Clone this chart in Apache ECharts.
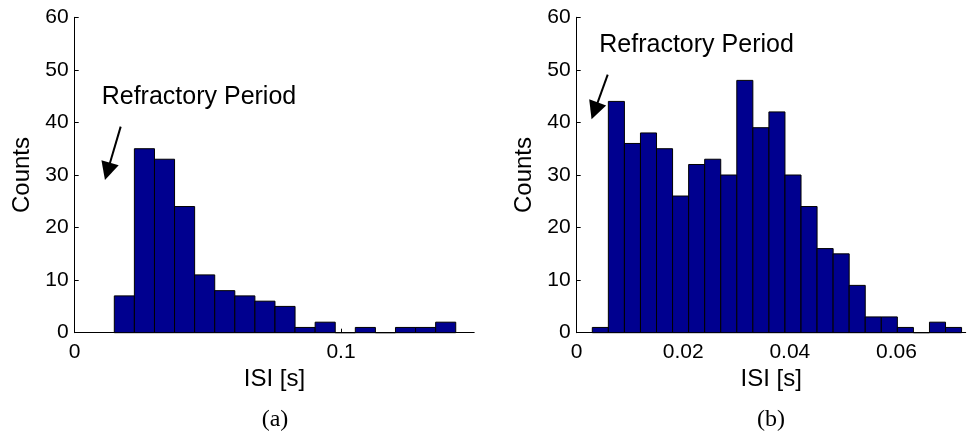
<!DOCTYPE html>
<html>
<head>
<meta charset="utf-8">
<script src="https://cdn.jsdelivr.net/npm/echarts@6/dist/echarts.min.js"></script>
<style>
  html, body { margin: 0; padding: 0; background: #fff; }
  #chart { width: 968px; height: 436px; }
</style>
</head>
<body>
<div id="chart"></div>
<script>
// Inter-spike interval histograms: (a) left, (b) right
const countsA = [7, 35, 33, 24, 11, 8, 7, 6, 5, 1, 2, 0, 1, 0, 1, 1, 2];
const binStartA = 0.01487;
const binWidthA = 0.007541;

const countsB = [1, 44, 36, 38, 35, 26, 32, 33, 30, 48, 39, 42, 30, 24, 16, 15, 9, 3, 3, 1, 0, 2, 1];
const binStartB = 0.002927;
const binWidthB = 0.003013;

const yTicks = [0, 10, 20, 30, 40, 50, 60];
const xTicksA = [0, 0.1];
const xTicksB = [0, 0.02, 0.04, 0.06];

const annotationText = 'Refractory Period';
// annotation anchors in data coordinates [x, y]
const arrowA = [[0.01727, 39.2], [0.01232, 30.7]];
const labelA = [0.01014, 44.9];
const arrowB = [[0.00582, 49.1], [0.00336, 42.2]];
const labelB = [0.00424, 54.7];

function binsOf(counts, start, width) {
  return counts.map((c, i) => [start + i * width, start + (i + 1) * width, c]);
}

function renderBar(params, api) {
  const x0 = api.value(0), x1 = api.value(1), c = api.value(2);
  const p0 = api.coord([x0, c]);
  const p1 = api.coord([x1, 0]);
  return {
    type: 'rect',
    shape: { x: p0[0], y: p0[1], width: p1[0] - p0[0], height: p1[1] - p0[1] },
    style: { fill: '#00008f', stroke: '#000', lineWidth: 1 }
  };
}

const sans = 'Liberation Sans, Arial, Helvetica, sans-serif';
const tickFont = { color: '#000', fontSize: 21, fontFamily: sans };

function xAxisOf(idx, max, interval, ticks) {
  return {
    type: 'value', gridIndex: idx, min: 0, max: max, interval: interval,
    name: 'ISI [s]', nameLocation: 'middle', nameGap: 30,
    nameTextStyle: { color: '#000', fontSize: 24, fontFamily: sans },
    axisLine: { show: true, lineStyle: { color: '#000', width: 1 } },
    axisTick: { show: true, inside: true, length: 4, lineStyle: { color: '#000' } },
    axisLabel: Object.assign({
      margin: 9, showMaxLabel: false,
      formatter: v => (ticks.some(t => Math.abs(t - v) < 1e-9) ? String(+v.toFixed(4)) : '')
    }, tickFont),
    splitLine: { show: false }
  };
}

function yAxisOf(idx) {
  return {
    type: 'value', gridIndex: idx, min: yTicks[0], max: yTicks[yTicks.length - 1], interval: 10,
    name: 'Counts', nameLocation: 'middle', nameGap: 40,
    nameTextStyle: { color: '#000', fontSize: 24, fontFamily: sans },
    axisLine: { show: true, lineStyle: { color: '#000', width: 1 } },
    axisTick: { show: true, inside: true, length: 4, lineStyle: { color: '#000' } },
    axisLabel: Object.assign({ margin: 6 }, tickFont),
    splitLine: { show: false }
  };
}

function annotations(arrow, label) {
  return {
    markLine: {
      silent: true,
      symbol: ['none', 'triangle'],
      symbolSize: 18,
      itemStyle: { color: '#000' },
      lineStyle: { color: '#000', width: 2, type: 'solid' },
      label: { show: false },
      emphasis: { disabled: true },
      animation: false,
      data: [[{ coord: arrow[0] }, { coord: arrow[1] }]]
    },
    markPoint: {
      silent: true,
      symbol: 'circle',
      symbolSize: 0,
      animation: false,
      label: {
        show: true, position: 'right', distance: 0,
        color: '#000', fontSize: 25, fontFamily: sans,
        formatter: annotationText
      },
      data: [{ coord: label }]
    }
  };
}

const chart = echarts.init(document.getElementById('chart'), null, { renderer: 'canvas' });

chart.setOption({
  animation: false,
  backgroundColor: '#fff',
  grid: [
    { left: 74.7, top: 17.3, width: 399.5, height: 315.4 },
    { left: 576.7, top: 17.3, width: 389, height: 315.4 }
  ],
  xAxis: [
    xAxisOf(0, 0.15, 0.1, xTicksA),
    xAxisOf(1, 0.073, 0.02, xTicksB)
  ],
  yAxis: [yAxisOf(0), yAxisOf(1)],
  series: [
    Object.assign({
      type: 'custom', xAxisIndex: 0, yAxisIndex: 0,
      renderItem: renderBar, data: binsOf(countsA, binStartA, binWidthA)
    }, annotations(arrowA, labelA)),
    Object.assign({
      type: 'custom', xAxisIndex: 1, yAxisIndex: 1,
      renderItem: renderBar, data: binsOf(countsB, binStartB, binWidthB)
    }, annotations(arrowB, labelB))
  ],
  graphic: [
    { type: 'text', x: 275, y: 420, style: { text: '(a)', fill: '#000', font: '24px "Liberation Serif", serif', textAlign: 'center', textVerticalAlign: 'middle' } },
    { type: 'text', x: 771, y: 420, style: { text: '(b)', fill: '#000', font: '24px "Liberation Serif", serif', textAlign: 'center', textVerticalAlign: 'middle' } }
  ]
});
</script>
</body>
</html>
